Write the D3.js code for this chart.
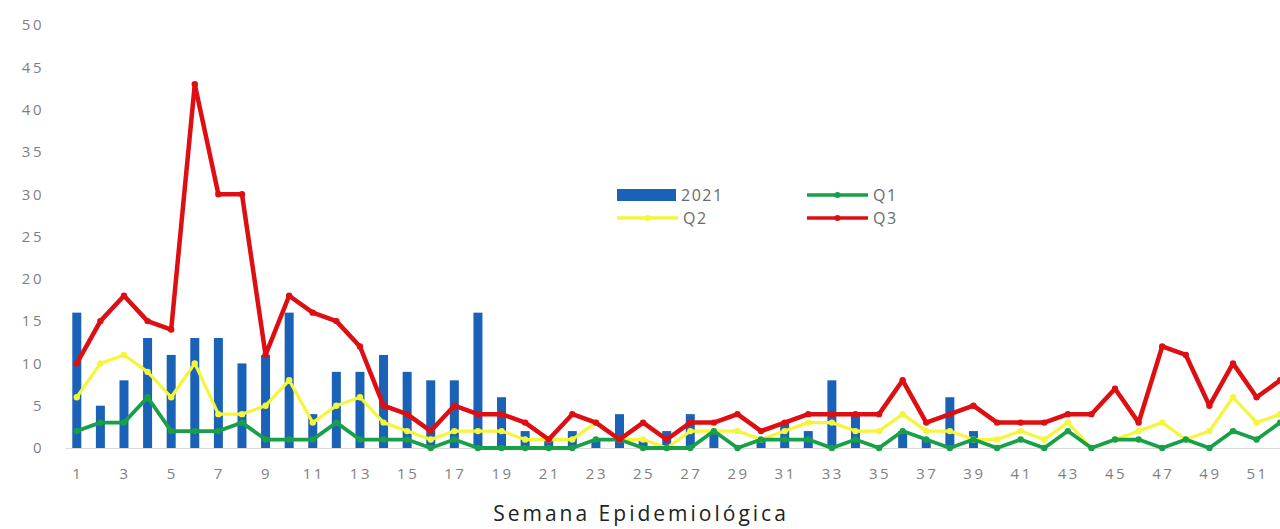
<!DOCTYPE html>
<html>
	<head>
		<title>Semana Epidemiológica</title>
		<meta charset="utf-8">
		<script type="text/javascript" src="https://cdn.jsdelivr.net/npm/d3@7"></script>
		<style>
			body { margin: 0; background: #fff; }
			text { font-family: "Open Sans", sans-serif; }
		</style>
	</head>
	<body>
		<script>

		// week numbers and series
		var weeks = d3.range(1, 53);
		var cases2021 = [16, 5, 8, 13, 11, 13, 13, 10, 11, 16, 4, 9, 9, 11, 9, 8, 8, 16, 6, 2,
			1, 2, 1, 4, 1, 2, 4, 2, 0, 1, 3, 2, 8, 4, 0, 2, 1, 6, 2, 0,
			0, 0, 0, 0, 0, 0, 0, 0, 0, 0, 0, 0];
		var q1 = [2, 3, 3, 6, 2, 2, 2, 3, 1, 1, 1, 3, 1, 1, 1, 0, 1, 0, 0, 0,
			0, 0, 1, 1, 0, 0, 0, 2, 0, 1, 1, 1, 0, 1, 0, 2, 1, 0, 1, 0,
			1, 0, 2, 0, 1, 1, 0, 1, 0, 2, 1, 3];
		var q2 = [6, 10, 11, 9, 6, 10, 4, 4, 5, 8, 3, 5, 6, 3, 2, 1, 2, 2, 2, 1,
			1, 1, 3, 1, 1, 0, 2, 2, 2, 1, 2, 3, 3, 2, 2, 4, 2, 2, 1, 1,
			2, 1, 3, 0, 1, 2, 3, 1, 2, 6, 3, 4];
		var q3 = [10, 15, 18, 15, 14, 43, 30, 30, 11, 18, 16, 15, 12, 5, 4, 2, 5, 4, 4, 3,
			1, 4, 3, 1, 3, 1, 3, 3, 4, 2, 3, 4, 4, 4, 4, 8, 3, 4, 5, 3,
			3, 3, 4, 4, 7, 3, 12, 11, 5, 10, 6, 8];
		var yTicks = [0, 5, 10, 15, 20, 25, 30, 35, 40, 45, 50];
		var xTickWeeks = weeks.filter(function(w) { return w % 2 == 1; });

		var svg_width = 1280;
		var svg_height = 529;
		var margin = {top: 25, left: 65};
		var plot_right = 1292;
		var plot_bottom = 448;

		var svg = d3.select("body").append("svg")
			.attr("width", svg_width)
			.attr("height", svg_height);

		var x = d3.scaleBand()
			.domain(weeks)
			.range([margin.left, plot_right]);
		var y = d3.scaleLinear()
			.domain([0, 50])
			.range([plot_bottom, margin.top]);
		var cx = function(w) { return x(w) + x.bandwidth() / 2; };

		// y axis labels, no line
		var yAxis = d3.axisLeft(y).tickValues(yTicks).tickSize(0).tickPadding(0);
		svg.append("g")
			.attr("transform", "translate(44,0)")
			.call(yAxis)
			.call(function(g) { g.select(".domain").remove(); })
			.selectAll("text")
			.attr("fill", "#7f7f7f")
			.style("font-size", "15px")
			.style("letter-spacing", "2.5px");

		// x axis
		var xAxis = d3.axisBottom(x).tickValues(xTickWeeks).tickSize(0).tickPadding(20);
		var gx = svg.append("g")
			.attr("transform", "translate(0," + plot_bottom + ")")
			.call(xAxis);
		gx.select(".domain").attr("stroke", "#d9d9d9").attr("stroke-width", 1.2);
		gx.selectAll("text")
			.attr("fill", "#7f7f7f")
			.attr("dx", "1px")
			.style("font-size", "15px")
			.style("letter-spacing", "2.5px");

		// bars
		svg.append("g")
			.selectAll("rect")
			.data(weeks)
			.enter()
			.append("rect")
			.attr("x", function(w) { return cx(w) - 4.5; })
			.attr("width", 9)
			.attr("y", function(w, i) { return y(cases2021[i]); })
			.attr("height", function(w, i) { return plot_bottom - y(cases2021[i]); })
			.attr("fill", "#1a62b8");

		var series = [
			{name: "Q2", values: q2, color: "#f5f53a", width: 3.2},
			{name: "Q1", values: q1, color: "#17a047", width: 3.8},
			{name: "Q3", values: q3, color: "#dd0f12", width: 4.5}
		];
		var line = d3.line()
			.x(function(d) { return cx(d.week); })
			.y(function(d) { return y(d.value); });

		series.forEach(function(s) {
			var pts = weeks.map(function(w, i) { return {week: w, value: s.values[i]}; });
			var g = svg.append("g");
			g.append("path")
				.datum(pts)
				.attr("fill", "none")
				.attr("stroke", s.color)
				.attr("stroke-width", s.width)
				.attr("stroke-linejoin", "round")
				.attr("d", line);
			g.selectAll("circle")
				.data(pts)
				.enter()
				.append("circle")
				.attr("cx", function(d) { return cx(d.week); })
				.attr("cy", function(d) { return y(d.value); })
				.attr("r", 3.2)
				.attr("fill", s.color);
		});

		// legend
		var legend = svg.append("g");
		var legendItems = [
			{name: "2021", color: "#1a62b8", type: "bar", x: 617, y: 195},
			{name: "Q1", color: "#17a047", type: "line", x: 807, y: 195},
			{name: "Q2", color: "#f5f53a", type: "line", x: 617, y: 218},
			{name: "Q3", color: "#dd0f12", type: "line", x: 807, y: 218}
		];
		legendItems.forEach(function(d) {
			var w = d.type == "bar" ? 59 : 61;
			if (d.type == "bar") {
				legend.append("rect")
					.attr("x", d.x).attr("y", d.y - 6)
					.attr("width", w).attr("height", 12)
					.attr("fill", d.color);
			} else {
				legend.append("line")
					.attr("x1", d.x).attr("x2", d.x + w)
					.attr("y1", d.y).attr("y2", d.y)
					.attr("stroke", d.color).attr("stroke-width", 3.5);
				legend.append("circle")
					.attr("cx", d.x + w / 2).attr("cy", d.y).attr("r", 3)
					.attr("fill", d.color);
			}
			legend.append("text")
				.attr("x", d.x + w + 5)
				.attr("y", d.y + 6)
				.attr("fill", "#6b6b6b")
				.style("font-size", "16px")
				.style("letter-spacing", "1.5px")
				.text(d.name);
		});

		svg.append("text")
			.attr("x", 641)
			.attr("y", 521)
			.attr("text-anchor", "middle")
			.attr("fill", "#222")
			.style("font-size", "21px")
			.style("letter-spacing", "3px")
			.text("Semana Epidemiológica");

		</script>
	</body>
</html>
